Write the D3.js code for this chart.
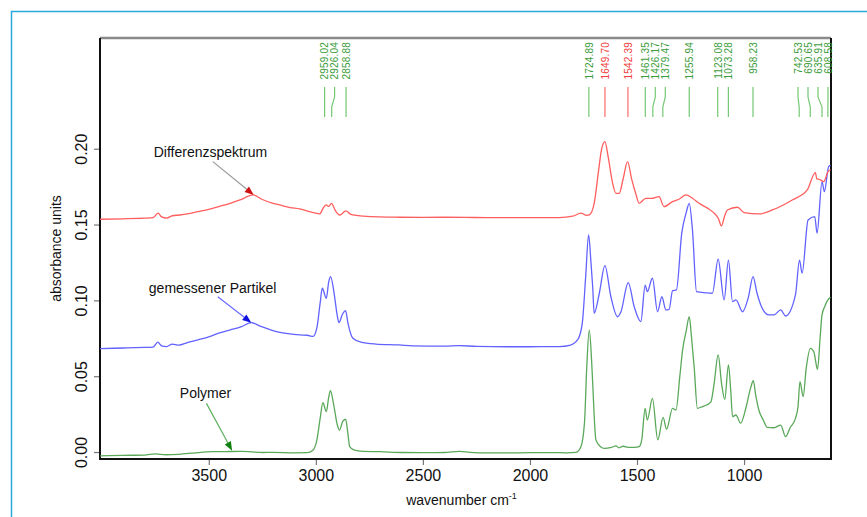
<!DOCTYPE html>
<html>
<head>
<meta charset="utf-8">
<script src="https://cdn.jsdelivr.net/npm/d3@7"></script>
<style>
  html, body { margin: 0; padding: 0; background: #fff; }
  svg { display: block; font-family: 'Liberation Sans', Arial, sans-serif; }
</style>
</head>
<body>
<svg id="chart" width="867" height="517"></svg>
<script>
// Spectra as [wavenumber cm-1, absorbance]
const polymer = [
  [4008, -0.0025], [3900, -0.0022], [3800, -0.0020], [3750, -0.0012], [3700, -0.0018],
  [3640, -0.0015], [3560, -0.0005], [3480, 0.0002], [3420, 0.0003], [3350, 0.0004],
  [3300, 0.0001], [3250, -0.0003], [3200, -0.0002], [3100, -0.0005], [3040, -0.0004],
  [3015, 0.0010], [2995, 0.0080], [2980, 0.0220], [2967, 0.0325], [2951, 0.0266],
  [2940, 0.0360], [2932, 0.0404], [2915, 0.0300], [2900, 0.0180], [2889, 0.0145],
  [2875, 0.0200], [2861, 0.0216], [2850, 0.0120], [2842, 0.0035], [2820, 0.0012],
  [2780, 0.0004], [2700, 0.0002], [2600, -0.0003], [2500, -0.0004], [2400, -0.0003],
  [2330, 0.0004], [2280, -0.0002], [2200, -0.0006], [2100, -0.0006], [2000, -0.0004],
  [1900, -0.0004], [1830, -0.0005], [1785, -0.0002], [1762, 0.0035], [1745, 0.0200],
  [1735, 0.0550], [1723, 0.0805], [1712, 0.0600], [1707, 0.0455], [1692, 0.0080],
  [1670, 0.0035], [1653, 0.0024], [1620, 0.0030], [1598, 0.0040], [1585, 0.0028],
  [1565, 0.0038], [1536, 0.0030], [1510, 0.0030], [1490, 0.0035], [1478, 0.0080],
  [1462, 0.0288], [1452, 0.0210], [1428, 0.0354], [1403, 0.0080], [1378, 0.0229],
  [1362, 0.0150], [1334, 0.0288], [1318, 0.0277], [1300, 0.0500], [1287, 0.0673],
  [1270, 0.0800], [1256, 0.0893], [1245, 0.0750], [1233, 0.0560], [1218, 0.0288],
  [1194, 0.0300], [1175, 0.0310], [1155, 0.0330], [1140, 0.0450], [1121, 0.0640],
  [1105, 0.0450], [1090, 0.0348], [1073, 0.0574], [1062, 0.0400], [1054, 0.0233],
  [1038, 0.0244], [1016, 0.0190], [990, 0.0300], [970, 0.0420], [957, 0.0470],
  [945, 0.0370], [931, 0.0277], [910, 0.0210], [892, 0.0163], [860, 0.0160],
  [829, 0.0178], [806, 0.0101], [785, 0.0160], [760, 0.0222], [748, 0.0300],
  [739, 0.0464], [724, 0.0365], [710, 0.0550], [690, 0.0684], [674, 0.0660],
  [657, 0.0545], [645, 0.0750], [636, 0.0904], [623, 0.0960], [610, 0.1000], [596, 0.1020]
];

const particle = [
  [4008, 0.0682], [3900, 0.0686], [3800, 0.0690], [3760, 0.0692], [3738, 0.0724],
  [3720, 0.0700], [3697, 0.0695], [3670, 0.0712], [3640, 0.0705], [3600, 0.0722],
  [3550, 0.0740], [3500, 0.0760], [3450, 0.0785], [3400, 0.0805], [3350, 0.0825],
  [3301, 0.0853], [3260, 0.0830], [3220, 0.0810], [3184, 0.0794], [3130, 0.0780],
  [3075, 0.0772], [3040, 0.0770], [3013, 0.0762], [2995, 0.0820], [2980, 0.0980],
  [2970, 0.1080], [2951, 0.1014], [2940, 0.1120], [2931, 0.1156], [2915, 0.1050],
  [2900, 0.0900], [2892, 0.0853], [2875, 0.0910], [2861, 0.0932], [2850, 0.0850],
  [2827, 0.0750], [2790, 0.0725], [2720, 0.0712], [2610, 0.0706], [2547, 0.0700],
  [2400, 0.0698], [2330, 0.0702], [2250, 0.0696], [2100, 0.0694], [2000, 0.0694],
  [1900, 0.0695], [1863, 0.0695], [1810, 0.0705], [1785, 0.0728], [1770, 0.0760],
  [1754, 0.0870], [1740, 0.1150], [1726, 0.1431], [1715, 0.1250], [1707, 0.1090],
  [1700, 0.0915], [1676, 0.1047], [1650, 0.1229], [1622, 0.1024], [1591, 0.0892],
  [1575, 0.0925], [1541, 0.1117], [1513, 0.0958], [1482, 0.0860], [1462, 0.1100],
  [1452, 0.1057], [1428, 0.1146], [1404, 0.0925], [1384, 0.1024], [1365, 0.0937],
  [1350, 0.0941], [1334, 0.1064], [1316, 0.1069], [1291, 0.1443], [1270, 0.1580],
  [1256, 0.1640], [1241, 0.1464], [1222, 0.1057], [1179, 0.1050], [1148, 0.1047],
  [1121, 0.1271], [1093, 0.1003], [1073, 0.1266], [1054, 0.0992], [1038, 0.1003],
  [1007, 0.0925], [980, 0.1020], [958, 0.1157], [940, 0.1050], [922, 0.0970],
  [884, 0.0904], [860, 0.0905], [829, 0.0937], [806, 0.0897], [760, 0.1036],
  [741, 0.1266], [729, 0.1179], [701, 0.1530], [670, 0.1552], [659, 0.1443],
  [636, 0.1783], [625, 0.1717], [605, 0.1882], [596, 0.1890]
];

const difference = [
  [4008, 0.1535], [3900, 0.1538], [3800, 0.1542], [3760, 0.1545], [3737, 0.1575],
  [3720, 0.1550], [3697, 0.1542], [3670, 0.1558], [3635, 0.1563], [3600, 0.1570],
  [3550, 0.1585], [3500, 0.1600], [3450, 0.1620], [3400, 0.1640], [3350, 0.1665],
  [3293, 0.1695], [3250, 0.1665], [3200, 0.1640], [3169, 0.1629], [3120, 0.1612],
  [3076, 0.1603], [3030, 0.1585], [2982, 0.1570], [2965, 0.1610], [2951, 0.1629],
  [2940, 0.1620], [2927, 0.1640], [2910, 0.1595], [2889, 0.1563], [2859, 0.1590],
  [2840, 0.1570], [2827, 0.1563], [2780, 0.1556], [2700, 0.1550], [2610, 0.1548],
  [2500, 0.1547], [2400, 0.1548], [2300, 0.1547], [2200, 0.1546], [2100, 0.1546],
  [1950, 0.1546], [1863, 0.1546], [1800, 0.1555], [1762, 0.1575], [1735, 0.1560],
  [1723, 0.1563], [1700, 0.1640], [1680, 0.1850], [1665, 0.2000], [1650, 0.2047],
  [1635, 0.1950], [1615, 0.1780], [1598, 0.1706], [1583, 0.1706], [1565, 0.1800],
  [1544, 0.1915], [1525, 0.1800], [1505, 0.1700], [1490, 0.1640], [1459, 0.1673],
  [1428, 0.1673], [1397, 0.1684], [1374, 0.1618], [1334, 0.1651], [1300, 0.1670],
  [1272, 0.1695], [1241, 0.1673], [1210, 0.1640], [1148, 0.1585], [1120, 0.1540],
  [1106, 0.1491], [1090, 0.1560], [1078, 0.1596], [1031, 0.1614], [1000, 0.1579],
  [930, 0.1570], [868, 0.1596], [775, 0.1662], [705, 0.1728], [667, 0.1842],
  [660, 0.1800], [651, 0.1799], [628, 0.1783], [608, 0.1849], [596, 0.1860]
];

// peak annotations along the top
const peakWavenumbers = [2959.02, 2926.04, 2858.88, 1724.89, 1649.70, 1542.39, 1461.35, 1426.17,
  1379.47, 1255.94, 1123.08, 1073.28, 958.23, 742.53, 690.65, 635.91, 608.58];
const redPeaks = [1649.70, 1542.39];

const xTicks = [3500, 3000, 2500, 2000, 1500, 1000];
const yTicks = [0, 0.05, 0.10, 0.15, 0.20];

// callouts: label, text anchor point, arrow tail, arrow tip (data coords)
const callouts = [
  { label: 'Differenzspektrum', text: [3757, 0.1948], tail: [3481, 0.1915], tip: [3290, 0.1695],
    line: '#9a9a9a', head: '#d01010' },
  { label: 'gemessener Partikel', text: [3780, 0.1047], tail: [3458, 0.1024], tip: [3301, 0.0853],
    line: '#6a6aff', head: '#1010e0' },
  { label: 'Polymer', text: [3635, 0.0354], tail: [3511, 0.0321], tip: [3391, 0.0009],
    line: '#5cb05c', head: '#108010' }
];

const margin = { top: 38, right: 36, bottom: 58, left: 100 };
const width = 867, height = 517;

const svg = d3.select('#chart');

svg.append('rect').attr('width', width).attr('height', height).attr('fill', '#fff');

// cyan page frame
svg.append('path')
  .attr('d', `M11.5,517V11.5H867`)
  .attr('fill', 'none')
  .attr('stroke', '#2aa8dc')
  .attr('stroke-width', 1.5);

const x = d3.scaleLinear()
  .domain([4008, 594])
  .range([margin.left, width - margin.right]);

const y = d3.scaleLinear()
  .domain([-0.0046, 0.273])
  .range([height - margin.bottom, margin.top]);

svg.append('defs').append('clipPath').attr('id', 'plot')
  .append('rect')
  .attr('x', margin.left).attr('y', margin.top)
  .attr('width', width - margin.right - margin.left)
  .attr('height', height - margin.bottom - margin.top);

// axes
const yAxis = svg.append('g')
  .attr('transform', `translate(${margin.left},0)`)
  .call(d3.axisLeft(y).tickValues(yTicks).tickFormat(d3.format('.2f')).tickSize(6));
yAxis.select('.domain').remove();
yAxis.selectAll('.tick line').attr('stroke', '#777').attr('stroke-width', 1.2);
yAxis.selectAll('.tick text')
  .attr('transform', 'rotate(-90)')
  .attr('x', 0).attr('y', -13).attr('dy', 0)
  .attr('text-anchor', 'middle')
  .attr('font-size', 16)
  .attr('font-family', "'Liberation Sans', Arial, sans-serif")
  .attr('fill', '#111');

const xAxis = svg.append('g')
  .attr('transform', `translate(0,${height - margin.bottom})`)
  .call(d3.axisBottom(x).tickValues(xTicks).tickFormat(d3.format('d')).tickSize(6));
xAxis.select('.domain').remove();
xAxis.selectAll('.tick line').attr('stroke', '#777').attr('stroke-width', 1.2);
xAxis.selectAll('.tick text')
  .attr('y', 11)
  .attr('font-size', 16)
  .attr('font-family', "'Liberation Sans', Arial, sans-serif")
  .attr('fill', '#111');

// plot frame
const [x0, x1] = x.range();
const [yb, yt] = y.range();
svg.append('line').attr('x1', x0).attr('x2', x1).attr('y1', yt).attr('y2', yt)
  .attr('stroke', '#8a8a8a').attr('stroke-width', 2.5);
svg.append('path')
  .attr('d', `M${x0},${yt}V${yb}H${x1}V${yt}`)
  .attr('fill', 'none')
  .attr('stroke', '#111')
  .attr('stroke-width', 2);

// spectra
const line = d3.line()
  .x(d => x(d[0]))
  .y(d => y(d[1]))
  .curve(d3.curveMonotoneX);

const series = [
  { data: polymer, color: '#5aa85a' },
  { data: particle, color: '#6262ff' },
  { data: difference, color: '#ff5e5e' }
];

svg.append('g')
  .attr('clip-path', 'url(#plot)')
  .selectAll('path')
  .data(series)
  .join('path')
  .attr('d', d => line(d.data))
  .attr('fill', 'none')
  .attr('stroke', d => d.color)
  .attr('stroke-width', 1.3)
  .attr('stroke-linejoin', 'round');

// peak labels: spread apart so they don't overlap, right edge limited
const gap = 10;
const peaks = peakWavenumbers.map(w => ({ w, px: x(w), red: redPeaks.includes(w) }))
  .sort((a, b) => a.px - b.px);
peaks.forEach((p, i) => {
  p.lx = i ? Math.max(p.px, peaks[i - 1].lx + gap) : p.px;
});
const maxX = x1 - 3;
for (let i = peaks.length - 1; i >= 0; i--) {
  const limit = i === peaks.length - 1 ? maxX : peaks[i + 1].lx - gap;
  peaks[i].lx = Math.min(peaks[i].lx, limit);
}

const peakG = svg.append('g');
peakG.selectAll('path')
  .data(peaks)
  .join('path')
  .attr('d', p => `M${p.lx},87V97L${p.px},107V117`)
  .attr('fill', 'none')
  .attr('stroke', p => p.red ? '#ff6a6a' : '#74c874')
  .attr('stroke-width', 1.2);

peakG.selectAll('text')
  .data(peaks)
  .join('text')
  .attr('transform', p => `translate(${p.lx + 3.8},42) rotate(-90)`)
  .attr('text-anchor', 'end')
  .attr('font-size', 10)
  .attr('letter-spacing', 0.2)
  .attr('fill', p => p.red ? '#f03c3c' : '#3a9c3a')
  .text(p => p.w.toFixed(2));

// callouts with arrows
const calloutG = svg.append('g');
callouts.forEach(c => {
  const [tx, ty] = [x(c.tail[0]), y(c.tail[1])];
  const [hx, hy] = [x(c.tip[0]), y(c.tip[1])];
  const ang = Math.atan2(hy - ty, hx - tx);
  const len = 9, half = 3.5;
  const bx = hx - len * Math.cos(ang), by = hy - len * Math.sin(ang);
  calloutG.append('line')
    .attr('x1', tx).attr('y1', ty).attr('x2', bx).attr('y2', by)
    .attr('stroke', c.line).attr('stroke-width', 1.2);
  calloutG.append('path')
    .attr('d', `M${hx},${hy}L${bx - half * Math.sin(ang)},${by + half * Math.cos(ang)}` +
      `L${bx + half * Math.sin(ang)},${by - half * Math.cos(ang)}Z`)
    .attr('fill', c.head);
  calloutG.append('text')
    .attr('x', x(c.text[0])).attr('y', y(c.text[1]))
    .attr('font-size', 14)
    .attr('fill', '#111')
    .text(c.label);
});

// axis titles
svg.append('text')
  .attr('transform', `translate(61,${(yt + yb) / 2}) rotate(-90)`)
  .attr('text-anchor', 'middle')
  .attr('font-size', 14)
  .attr('fill', '#111')
  .text('absorbance units');

const xTitle = svg.append('text')
  .attr('x', (x0 + x1) / 2 - 4)
  .attr('y', 505)
  .attr('text-anchor', 'middle')
  .attr('font-size', 14)
  .attr('fill', '#111');
xTitle.append('tspan').text('wavenumber cm');
xTitle.append('tspan').attr('font-size', 9).attr('dy', -6).text('-1');
</script>
</body>
</html>
